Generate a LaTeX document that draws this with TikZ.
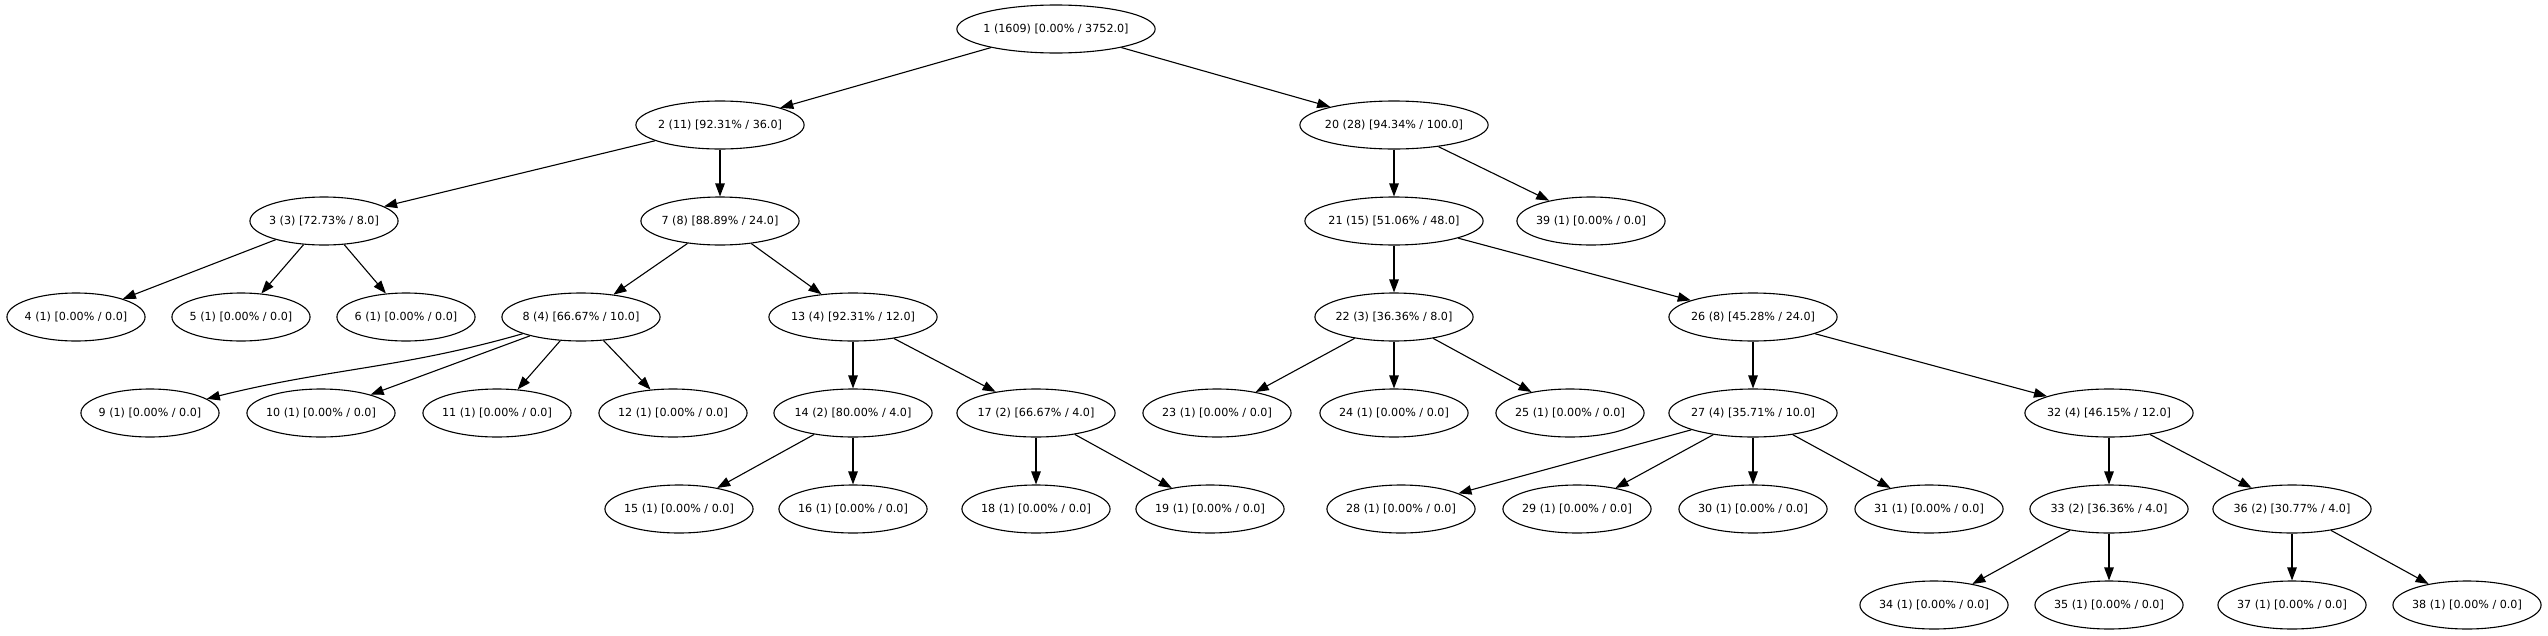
\documentclass[tikz,border=0pt]{standalone}
\usepackage{fontspec}
\setmainfont{DejaVu Sans}
\usetikzlibrary{shapes.geometric,arrows.meta}
\begin{document}
\begin{tikzpicture}[x=1pt,y=-1pt,>={Triangle[length=13pt,width=9.5pt]}, line join=round,
  font=\fontsize{11.15}{13}\selectfont,
  nd/.style={draw,ellipse,line width=1.1pt,minimum height=48pt,inner xsep=-2.5pt,inner ysep=0pt},
  edge/.style={->,line width=1.1pt}]
\def\ya{29} \def\yb{125} \def\yc{221} \def\yd{317}
\def\ye{413} \def\yf{509} \def\yg{605}
\useasboundingbox (0,0) rectangle (2548,635);
% row 0 and 1
\node[nd] (n1) at (1056,\ya) {1 (1609) [0.00\% / 3752.0]};
\node[nd] (n2) at (720,\yb) {2 (11) [92.31\% / 36.0]};
\node[nd] (n20) at (1394,\yb) {20 (28) [94.34\% / 100.0]};
% row 2
\node[nd] (n3) at (324,\yc) {3 (3) [72.73\% / 8.0]};
\node[nd] (n7) at (720,\yc) {7 (8) [88.89\% / 24.0]};
\node[nd] (n21) at (1394,\yc) {21 (15) [51.06\% / 48.0]};
\node[nd] (n39) at (1591,\yc) {39 (1) [0.00\% / 0.0]};
% row 3
\node[nd] (n4) at (76,\yd) {4 (1) [0.00\% / 0.0]};
\node[nd] (n5) at (241,\yd) {5 (1) [0.00\% / 0.0]};
\node[nd] (n6) at (406,\yd) {6 (1) [0.00\% / 0.0]};
\node[nd] (n8) at (581,\yd) {8 (4) [66.67\% / 10.0]};
\node[nd] (n13) at (853,\yd) {13 (4) [92.31\% / 12.0]};
\node[nd] (n22) at (1394,\yd) {22 (3) [36.36\% / 8.0]};
\node[nd] (n26) at (1753,\yd) {26 (8) [45.28\% / 24.0]};
% row 4
\node[nd] (n9) at (150,\ye) {9 (1) [0.00\% / 0.0]};
\node[nd] (n10) at (321,\ye) {10 (1) [0.00\% / 0.0]};
\node[nd] (n11) at (497,\ye) {11 (1) [0.00\% / 0.0]};
\node[nd] (n12) at (673,\ye) {12 (1) [0.00\% / 0.0]};
\node[nd] (n14) at (853,\ye) {14 (2) [80.00\% / 4.0]};
\node[nd] (n17) at (1036,\ye) {17 (2) [66.67\% / 4.0]};
\node[nd] (n23) at (1217,\ye) {23 (1) [0.00\% / 0.0]};
\node[nd] (n24) at (1394,\ye) {24 (1) [0.00\% / 0.0]};
\node[nd] (n25) at (1570,\ye) {25 (1) [0.00\% / 0.0]};
\node[nd] (n27) at (1753,\ye) {27 (4) [35.71\% / 10.0]};
\node[nd] (n32) at (2109,\ye) {32 (4) [46.15\% / 12.0]};
% row 5
\node[nd] (n15) at (679,\yf) {15 (1) [0.00\% / 0.0]};
\node[nd] (n16) at (853,\yf) {16 (1) [0.00\% / 0.0]};
\node[nd] (n18) at (1036,\yf) {18 (1) [0.00\% / 0.0]};
\node[nd] (n19) at (1210,\yf) {19 (1) [0.00\% / 0.0]};
\node[nd] (n28) at (1401,\yf) {28 (1) [0.00\% / 0.0]};
\node[nd] (n29) at (1577,\yf) {29 (1) [0.00\% / 0.0]};
\node[nd] (n30) at (1753,\yf) {30 (1) [0.00\% / 0.0]};
\node[nd] (n31) at (1929,\yf) {31 (1) [0.00\% / 0.0]};
\node[nd] (n33) at (2109,\yf) {33 (2) [36.36\% / 4.0]};
\node[nd] (n36) at (2292,\yf) {36 (2) [30.77\% / 4.0]};
% row 6
\node[nd] (n34) at (1934,\yg) {34 (1) [0.00\% / 0.0]};
\node[nd] (n35) at (2109,\yg) {35 (1) [0.00\% / 0.0]};
\node[nd] (n37) at (2292,\yg) {37 (1) [0.00\% / 0.0]};
\node[nd] (n38) at (2467,\yg) {38 (1) [0.00\% / 0.0]};
% edges
\foreach \a/\b in {1/2,1/20,2/3,2/7,3/4,3/5,3/6,7/8,7/13,8/10,8/11,8/12,13/14,13/17,
  14/15,14/16,17/18,17/19,20/21,20/39,21/22,21/26,22/23,22/24,22/25,26/27,26/32,
  27/28,27/29,27/30,27/31,32/33,32/36,33/34,33/35,36/37,36/38}
  \draw[edge] (n\a)--(n\b);
\draw[edge] (n8) to[out=196,in=14] (n9);
\end{tikzpicture}
\end{document}
